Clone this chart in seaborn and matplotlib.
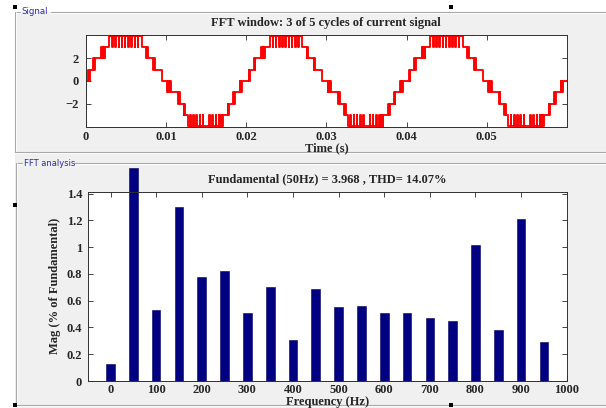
import numpy as np
import pandas as pd
import matplotlib
matplotlib.use("Agg")
import matplotlib.pyplot as plt
import seaborn as sns
from matplotlib.patches import Rectangle
from matplotlib.lines import Line2D
from matplotlib.ticker import FuncFormatter

# ---------------- data ----------------
freq_hz = [0, 50, 100, 150, 200, 250, 300, 350, 400, 450,
           500, 550, 600, 650, 700, 750, 800, 850, 900, 950]
mag_pct = [0.13, 1.59, 0.53, 1.30, 0.78, 0.82, 0.51, 0.70, 0.31, 0.69,
           0.55, 0.56, 0.51, 0.51, 0.47, 0.45, 1.02, 0.38, 1.21, 0.29]

# one 20 ms cycle of the current signal: switching instants (ms) and level after each
cycle_edge_ms = [
    0.00, 0.30, 0.40, 0.48,
    0.95, 1.05, 1.15,
    1.90, 1.98, 2.05, 2.12, 2.20, 2.27, 2.35,
    2.95,
    3.30, 3.36, 3.70, 3.76, 4.10, 4.16, 4.50, 4.56, 4.90, 4.96,
    5.30, 5.36, 5.70, 5.76, 6.10, 6.16, 6.50, 6.56,
    7.00,
    7.55, 7.65, 7.75,
    8.40, 8.50, 8.60,
    9.50,
    10.15, 10.22, 10.29, 10.36, 10.43, 10.50, 10.60,
    11.50, 11.60, 11.70,
    12.20, 12.30, 12.40,
    12.70,
    13.00, 13.07, 13.40, 13.47, 13.80, 13.87, 14.20, 14.27, 14.60, 14.67,
    15.40, 15.47, 15.80, 15.87, 16.20, 16.27, 16.60, 16.67,
    16.80, 16.87, 16.94, 17.00,
    17.10,
    17.70, 17.80, 17.90,
    18.40, 18.50, 18.60,
    19.20, 19.28, 19.35, 19.42, 19.50,
]
cycle_level = [
    0, 1, 0, 1,
    2, 1, 2,
    3, 2, 3, 2, 3, 2, 3,
    4,
    3, 4, 3, 4, 3, 4, 3, 4, 3, 4,
    3, 4, 3, 4, 3, 4, 3, 4,
    3,
    2, 3, 2,
    1, 2, 1,
    0,
    -1, 0, -1, 0, -1, 0, -1,
    -2, -1, -2,
    -3, -2, -3,
    -4,
    -3, -4, -3, -4, -3, -4, -3, -4, -3, -4,
    -3, -4, -3, -4, -3, -4, -3, -4,
    -3, -4, -3, -4,
    -3,
    -2, -3, -2,
    -1, -2, -1,
    0, -1, 0, -1, 0,
]
n_cycles = 3
cycle_ms = 20.0

time_ticks = [0, 0.01, 0.02, 0.03, 0.04, 0.05]
sig_yticks = [-2, 0, 2]
freq_ticks = [0, 100, 200, 300, 400, 500, 600, 700, 800, 900, 1000]
mag_ticks = [0, 0.2, 0.4, 0.6, 0.8, 1.0, 1.2, 1.4]

title_sig = "FFT window: 3 of 5 cycles of current signal"
title_fft = "Fundamental (50Hz) = 3.968 , THD= 14.07%"

# ---------------- style ----------------
sns.set_style("ticks")
plt.rcParams["font.family"] = ["Liberation Serif", "DejaVu Serif"]
plt.rcParams["font.weight"] = "bold"
plt.rcParams["axes.labelweight"] = "bold"
plt.rcParams["axes.titleweight"] = "bold"

W, H = 606, 408
fig = plt.figure(figsize=(W / 100, H / 100), dpi=100)
fig.patch.set_facecolor("white")

def fx(x):
    return x / W

def fy(y):
    return 1 - y / H

# gray GUI background
fig.patches.append(Rectangle((fx(15), 0), 1 - fx(15), fy(12), transform=fig.transFigure,
                             facecolor="#f0f0f0", edgecolor="none", zorder=-10))

def hline(x0, x1, y):
    fig.add_artist(Line2D([fx(x0), fx(x1)], [fy(y), fy(y)], color="#a8a8a8", lw=0.8, zorder=-5))
    fig.add_artist(Line2D([fx(x0), fx(x1)], [fy(y + 1), fy(y + 1)], color="white", lw=0.6, zorder=-5))

def vline(x, y0, y1):
    fig.add_artist(Line2D([fx(x), fx(x)], [fy(y0), fy(y1)], color="#a8a8a8", lw=0.8, zorder=-5))
    fig.add_artist(Line2D([fx(x + 1), fx(x + 1)], [fy(y0), fy(y1)], color="white", lw=0.6, zorder=-5))

# Signal frame
hline(15, 20, 12)
hline(51, 606, 12)
vline(15, 12, 152)
hline(15, 606, 152)
fig.text(fx(21.5), fy(12), "Signal", fontsize=6.2, color="#2a2ab0", va="center", ha="left",
         family="DejaVu Sans", fontweight="normal")
# FFT frame
hline(16, 22, 163)
hline(74, 606, 163)
vline(16, 163, 405)
hline(16, 606, 405)
fig.text(fx(24.5), fy(163), "FFT analysis", fontsize=6.0, color="#2a2ab0", va="center", ha="left",
         family="DejaVu Sans", fontweight="normal")

# selection handles
for (hx, hy) in [(13, 5), (449, 5), (13, 203), (13, 403), (449, 403)]:
    fig.patches.append(Rectangle((fx(hx), fy(hy + 4)), 3.5 / W, 4 / H, transform=fig.transFigure,
                                 facecolor="black", edgecolor="none", zorder=5))

# ---------------- signal axes ----------------
ax1 = fig.add_axes([fx(85.7), fy(126.5), (567 - 85.7) / W, (126.5 - 35.3) / H])
t_all, lv_all = [], []
for k in range(n_cycles):
    t_all += [e + k * cycle_ms for e in cycle_edge_ms]
    lv_all += cycle_level
t_all.append(n_cycles * cycle_ms)
lv_all.append(cycle_level[-1])
sig = pd.DataFrame({"t": np.array(t_all) / 1000.0, "i": lv_all})
sns.lineplot(data=sig, x="t", y="i", ax=ax1, color="red", lw=1.35,
             drawstyle="steps-post", estimator=None, sort=False)
ax1.set_xlim(0, 0.06)
ax1.set_ylim(-4.03, 4.03)
ax1.set_xticks(time_ticks)
ax1.set_yticks(sig_yticks)
ax1.xaxis.set_major_formatter(FuncFormatter(lambda v, p: f"{v:g}"))
ax1.set_title(title_sig, fontsize=9, pad=7)
ax1.set_xlabel("Time (s)", fontsize=9, labelpad=-1)
ax1.set_ylabel("")
ax1.tick_params(direction="in", top=True, right=True, length=3.5, width=0.6,
                labelsize=9, pad=3.5)
ax1.tick_params(axis="y", pad=5)

# ---------------- FFT axes ----------------
ax2 = fig.add_axes([fx(87.7), fy(381), (566.7 - 87.7) / W, (381 - 191.7) / H])
fft = pd.DataFrame({"f": freq_hz, "m": mag_pct})
sns.barplot(data=fft, x="f", y="m", ax=ax2, native_scale=True, width=0.38,
            color="#000080", saturation=1, errorbar=None)
for p in ax2.patches:
    p.set_clip_on(False)
    p.set_edgecolor("#000060")
    p.set_linewidth(0.4)
ax2.set_xlim(-50, 1000)
ax2.set_ylim(0, 1.415)
ax2.set_xticks(freq_ticks)
ax2.set_yticks(mag_ticks)
ax2.xaxis.set_major_formatter(FuncFormatter(lambda v, p: f"{v:g}"))
ax2.yaxis.set_major_formatter(FuncFormatter(lambda v, p: f"{v:g}"))
ax2.set_title(title_fft, fontsize=9, pad=7)
ax2.set_xlabel("Frequency (Hz)", fontsize=9, labelpad=-0.5)
ax2.set_ylabel("Mag (% of Fundamental)", fontsize=9, labelpad=4)
ax2.tick_params(direction="in", top=True, right=True, length=3.5, width=0.6,
                labelsize=9, pad=2.5)
ax2.tick_params(axis="y", pad=4)

for ax in (ax1, ax2):
    ax.set_facecolor("white")
    for s in ax.spines.values():
        s.set_visible(True)
        s.set_color("#303030")
        s.set_linewidth(0.7)

fig.savefig("out.png", dpi=100, facecolor=fig.get_facecolor())
